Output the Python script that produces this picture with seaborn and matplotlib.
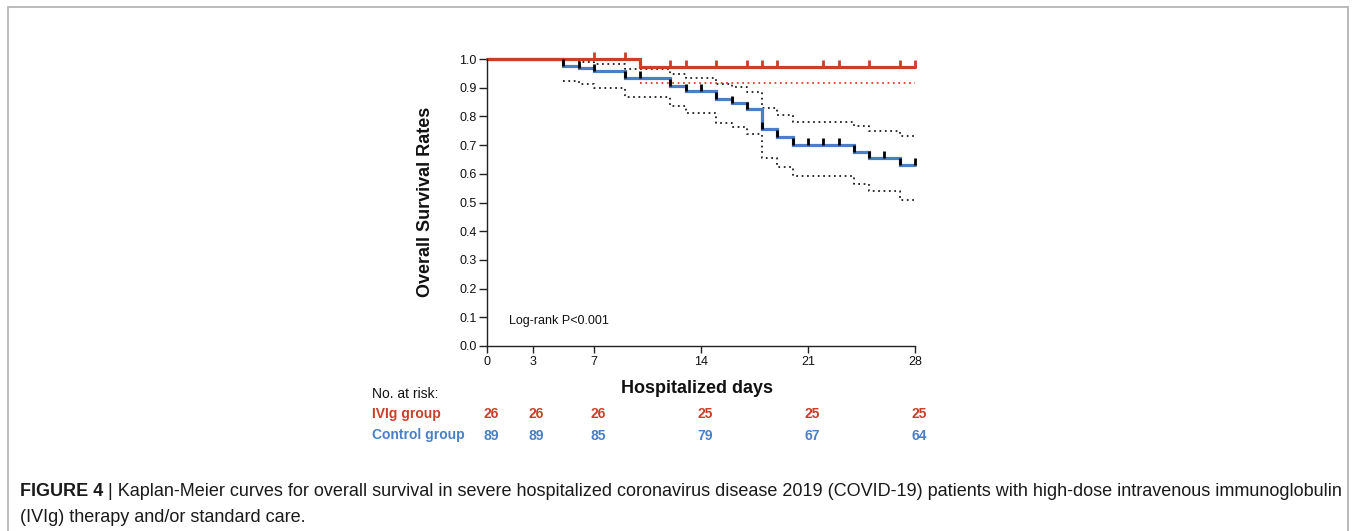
import numpy as np
import pandas as pd
import matplotlib
matplotlib.use("Agg")
import matplotlib.pyplot as plt
import seaborn as sns
from matplotlib.transforms import blended_transform_factory
from matplotlib.patches import Rectangle

# ---------------- data ----------------
ivig_days = [0, 10, 28]
ivig_surv = [1.0, 0.973, 0.973]
ivig_censor = [7, 9, 12, 13, 15, 17, 18, 19, 22, 23, 25, 27, 28]
ivig_ci_days = [10, 28]
ivig_ci_lower = [0.917, 0.917]

ctrl_days = [0, 5, 6, 7, 9, 12, 13, 15, 16, 17, 18, 19, 20, 24, 25, 27, 28]
ctrl_surv = [1.0, 0.977, 0.967, 0.959, 0.933, 0.907, 0.890, 0.860, 0.848,
             0.825, 0.756, 0.728, 0.700, 0.677, 0.656, 0.632, 0.632]
ctrl_censor = [5, 6, 7, 9, 10, 12, 13, 14, 15, 16, 17, 18, 19, 20, 21, 22,
               23, 24, 25, 26, 27, 28]
ctrl_ci_days = [5, 6, 7, 9, 12, 13, 15, 16, 17, 18, 19, 20, 24, 25, 27, 28]
ctrl_ci_upper = [0.997, 0.991, 0.983, 0.965, 0.948, 0.933, 0.913, 0.904,
                 0.884, 0.828, 0.806, 0.782, 0.767, 0.750, 0.733, 0.733]
ctrl_ci_lower = [0.923, 0.912, 0.900, 0.867, 0.836, 0.813, 0.778, 0.763,
                 0.737, 0.656, 0.625, 0.591, 0.566, 0.540, 0.510, 0.510]

risk_days = [0, 3, 7, 14, 21, 28]
risk_ivig = [26, 26, 26, 25, 25, 25]
risk_ctrl = [89, 89, 85, 79, 67, 64]
group_names = ["IVIg group", "Control group"]

x_ticks = [0, 3, 7, 14, 21, 28]
y_ticks = [0.0, 0.1, 0.2, 0.3, 0.4, 0.5, 0.6, 0.7, 0.8, 0.9, 1.0]

caption_bold = "FIGURE 4"
caption_line1 = (" | Kaplan-Meier curves for overall survival in severe hospitalized "
                 "coronavirus disease 2019 (COVID-19) patients with high-dose "
                 "intravenous immunoglobulin")
caption_line2 = "(IVIg) therapy and/or standard care."

# ---------------- style ----------------
RED = "#C8402A"
BLUE = "#4A7FC6"
sns.set_style("white")
plt.rcParams["font.family"] = ["Liberation Sans", "DejaVu Sans"]

W, H = 1354, 531
fig = plt.figure(figsize=(W / 100, H / 100), dpi=100)
fig.patch.set_facecolor("white")

def fx(px):
    return px / W

def fy(py):
    return 1 - py / H

ax = fig.add_axes([fx(487), fy(346), fx(915) - fx(487), fy(59) - fy(346)])

# confidence bands (dotted)
df_cu = pd.DataFrame({"day": ctrl_ci_days, "v": ctrl_ci_upper})
df_cl = pd.DataFrame({"day": ctrl_ci_days, "v": ctrl_ci_lower})
df_il = pd.DataFrame({"day": ivig_ci_days, "v": ivig_ci_lower})
for d in (df_cu, df_cl):
    sns.lineplot(data=d, x="day", y="v", ax=ax, estimator=None, sort=False,
                 drawstyle="steps-post", color="#111111", lw=1.25,
                 linestyle=(0, (1, 2.1)), clip_on=False)
sns.lineplot(data=df_il, x="day", y="v", ax=ax, estimator=None, sort=False,
             drawstyle="steps-post", color="#E0301E", lw=1.25,
             linestyle=(0, (1, 2.1)), clip_on=False)

# survival curves
df_c = pd.DataFrame({"day": ctrl_days, "surv": ctrl_surv})
df_i = pd.DataFrame({"day": ivig_days, "surv": ivig_surv})
sns.lineplot(data=df_c, x="day", y="surv", ax=ax, estimator=None, sort=False,
             drawstyle="steps-post", color=BLUE, lw=2.3, clip_on=False,
             solid_joinstyle="miter")
sns.lineplot(data=df_i, x="day", y="surv", ax=ax, estimator=None, sort=False,
             drawstyle="steps-post", color=RED, lw=2.3, clip_on=False,
             solid_joinstyle="miter")

# censor marks (tick rising from the curve)
tick_marker = [(0, 0), (0, 1)]

def step_value(days, surv, t):
    i = np.searchsorted(days, t, side="right") - 1
    return surv[i]

cy = [step_value(ctrl_days, ctrl_surv, t) for t in ctrl_censor]
iy = [step_value(ivig_days, ivig_surv, t) for t in ivig_censor]
ax.plot(ctrl_censor, cy, ls="none", marker=tick_marker, ms=9.5, mew=2.0,
        mec="black", clip_on=False, zorder=5)
ax.plot(ivig_censor, iy, ls="none", marker=tick_marker, ms=9.5, mew=2.0,
        mec=RED, clip_on=False, zorder=6)

# axes
ax.set_xlim(0, 28)
ax.set_ylim(0, 1)
ax.set_xticks(x_ticks)
ax.set_xticklabels([str(v) for v in x_ticks])
ax.set_yticks(y_ticks)
ax.set_yticklabels([f"{v:.1f}" for v in y_ticks])
for s in ("top", "right"):
    ax.spines[s].set_visible(False)
for s in ("left", "bottom"):
    ax.spines[s].set_color("#222222")
    ax.spines[s].set_linewidth(1.0)
ax.tick_params(axis="y", direction="out", length=6, width=1.0, color="#222222",
               pad=1.5, labelsize=9, labelcolor="#111111", left=True)
ax.tick_params(axis="x", direction="out", length=5, width=1.0, color="#222222",
               pad=2.5, labelsize=9, labelcolor="#111111", bottom=True)
ax.set_xlabel("")
ax.set_ylabel("")
ax.set_facecolor("white")
ax.grid(False)

fig.text(fx(425), fy(202), "Overall Survival Rates", rotation=90, fontsize=13,
         fontweight="bold", ha="center", va="center", color="#111111")
fig.text(fx(697), fy(393), "Hospitalized days", fontsize=13, fontweight="bold",
         ha="center", va="baseline", color="#111111")

ax.text(1.45, 0.087, "Log-rank P<0.001", fontsize=9, ha="left", va="center",
        color="#111111")

# number at risk table
fig.text(fx(372), fy(398), "No. at risk:", fontsize=10, ha="left",
         va="baseline", color="#111111")
fig.text(fx(372), fy(418), group_names[0], fontsize=10, fontweight="bold",
         ha="left", va="baseline", color=RED)
fig.text(fx(372), fy(439.5), group_names[1], fontsize=10, fontweight="bold",
         ha="left", va="baseline", color=BLUE)
trans = blended_transform_factory(ax.transData, fig.transFigure)
for d, a, b in zip(risk_days, risk_ivig, risk_ctrl):
    ax.text(d + 0.25, fy(418), str(a), transform=trans, fontsize=10,
            fontweight="bold", ha="center", va="baseline", color=RED,
            clip_on=False)
    ax.text(d + 0.25, fy(439.5), str(b), transform=trans, fontsize=10,
            fontweight="bold", ha="center", va="baseline", color=BLUE,
            clip_on=False)

# frame
fig.patches.append(Rectangle((fx(8), -0.1), fx(1348) - fx(8), fy(7) + 0.1,
                             transform=fig.transFigure, fill=False,
                             edgecolor="#b5b5b5", lw=1.3, clip_on=False))

# caption, fitted to width
cap_family = ["Liberation Sans Narrow", "Liberation Sans", "DejaVu Sans"]
renderer = fig.canvas.get_renderer()
target = 1338 - 20

def measure(size):
    t1 = fig.text(0, 0, caption_bold, fontsize=size, fontweight="bold",
                  family=cap_family)
    t2 = fig.text(0, 0, caption_line1, fontsize=size, family=cap_family)
    w = t1.get_window_extent(renderer).width + t2.get_window_extent(renderer).width
    t1.remove()
    t2.remove()
    return w

size = 11.0
for _ in range(4):
    size *= target / measure(size)

t1 = fig.text(fx(20), fy(496), caption_bold, fontsize=size, fontweight="bold",
              family=cap_family, ha="left", va="baseline", color="#1a1a1a")
b1 = t1.get_window_extent(renderer)
fig.text(b1.x1 / W, fy(496), caption_line1, fontsize=size,
         family=cap_family, ha="left", va="baseline", color="#1a1a1a")
fig.text(fx(20), fy(522), caption_line2, fontsize=size, family=cap_family,
         ha="left", va="baseline", color="#1a1a1a")

fig.savefig("out.png", dpi=100, facecolor="white")
